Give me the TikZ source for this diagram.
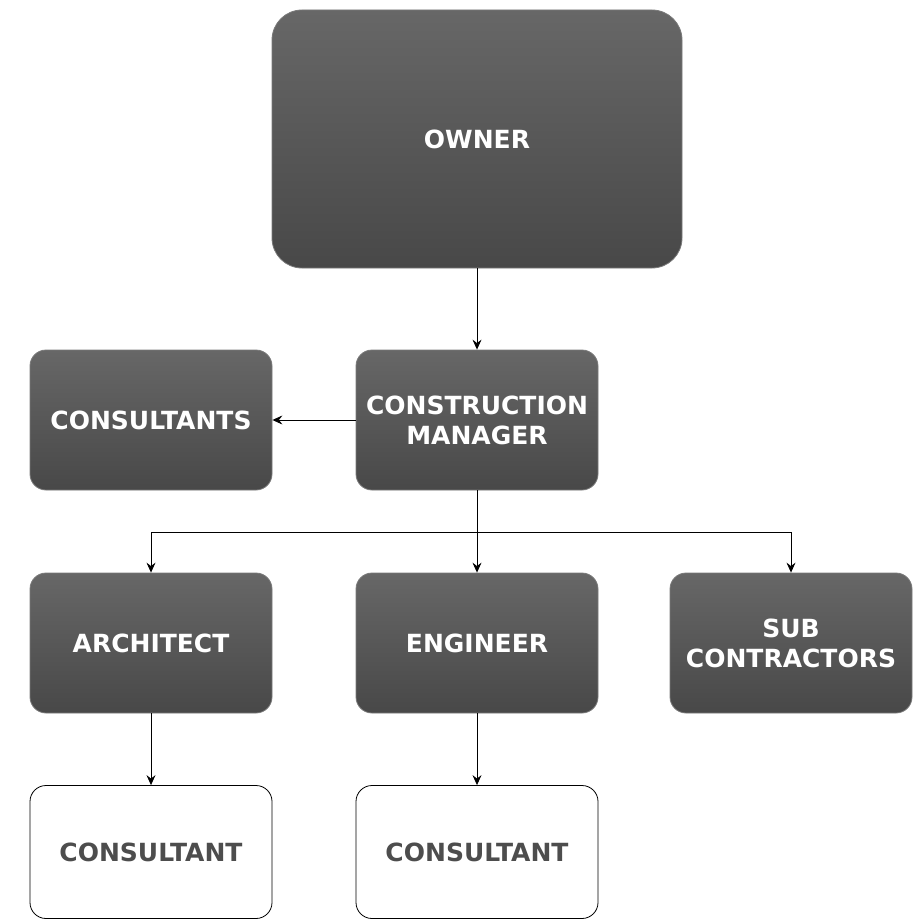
\documentclass[tikz,border=0pt]{standalone}
\usepackage{fontspec}
\setmainfont{DejaVu Sans}
\usetikzlibrary{arrows.meta}

\definecolor{boxtop}{HTML}{676767}
\definecolor{boxbot}{HTML}{484848}
\definecolor{boxline}{HTML}{7A7A7A}
\definecolor{textgray}{HTML}{4D4D4D}

\begin{document}
\begin{tikzpicture}[x=1pt, y=-1pt,
    darkbox/.style={draw=boxline, line width=0.8pt, top color=boxtop, bottom color=boxbot,
        rounded corners=16pt, minimum width=242pt, minimum height=140pt,
        align=center, text=white, font=\bfseries\fontsize{25}{30}\selectfont},
    lightbox/.style={draw=black, line width=0.8pt, fill=white,
        rounded corners=16pt, minimum width=242pt, minimum height=133pt,
        align=center, text=textgray, font=\bfseries\fontsize{25}{30}\selectfont},
    link/.style={draw=black, line width=0.9pt, -{Stealth[length=10pt,width=9pt,inset=3.5pt]}}]
    \useasboundingbox (0,0) rectangle (913,920);
    \coordinate (O) at (477,139);
    \coordinate (CM) at (477,420);
    \node (owner) at (O) [darkbox, rounded corners=30pt, minimum width=410pt, minimum height=258pt]{OWNER};
    \node (manager) at (CM) [darkbox]{CONSTRUCTION\\MANAGER};
    \node (consultants) at (151,420) [darkbox]{CONSULTANTS};
    \node (architect) at (151,643) [darkbox]{ARCHITECT};
    \node (engineer) at (477,643) [darkbox]{ENGINEER};
    \node (subs) at (791,643) [darkbox]{SUB\\CONTRACTORS};
    \node (consA) at (151,852) [lightbox]{CONSULTANT};
    \node (consE) at (477,852) [lightbox]{CONSULTANT};
    \coordinate (bus) at (477,532);
    \draw[link] (owner) -- (manager);
    \draw[link] (manager) -- (consultants);
    \draw[line width=0.9pt] (manager) -- (bus);
    \draw[link] (bus) -| (architect);
    \draw[link] (bus) -- (engineer);
    \draw[link] (bus) -| (subs);
    \draw[link] (architect) -- (consA);
    \draw[link] (engineer) -- (consE);
\end{tikzpicture}
\end{document}
